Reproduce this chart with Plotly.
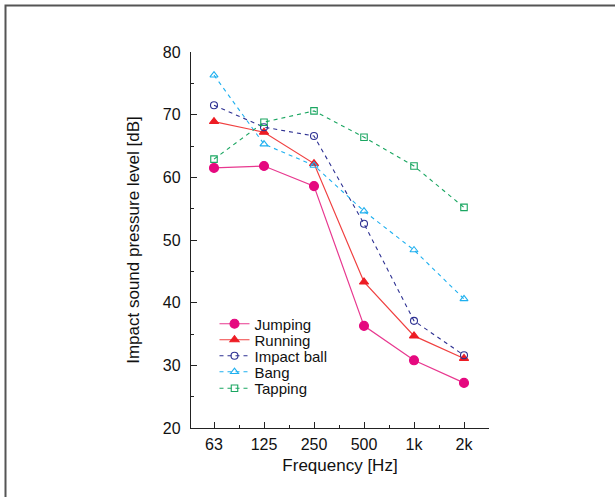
import plotly.graph_objects as go

# Octave-band centre frequencies
bands = ["63", "125", "250", "500", "1k", "2k"]

# Impact sound pressure level [dB] per excitation source
jumping = [61.5, 61.8, 58.6, 36.3, 30.8, 27.2]
running = [68.9, 67.2, 62.2, 43.3, 34.7, 31.1]
impact_ball = [71.5, 68.0, 66.6, 52.6, 37.1, 31.6]
bang = [76.3, 65.3, 61.9, 54.6, 48.4, 40.6]
tapping = [62.9, 68.8, 70.6, 66.4, 61.8, 55.2]

xpos = list(range(len(bands)))

series = [
    ("Jumping", jumping, "#e8388f", "#e5097f", "circle", 9, "solid", 1.2),
    ("Running", running, "#f04040", "#ed1c24", "triangle-up", 8, "solid", 1.2),
    ("Impact ball", impact_ball, "#2e3192", "#2e3192", "circle-open", 7, "4px,4px", 1.1),
    ("Bang", bang, "#1fb0ef", "#1fb0ef", "triangle-up-open", 7, "4px,4px", 1.1),
    ("Tapping", tapping, "#1aa661", "#1aa661", "square-open", 6.5, "4px,4px", 1.1),
]

font = "Arial, Liberation Sans, sans-serif"

# one single-entry legend per series so the rows can sit close together
legend_ids = ["legend", "legend2", "legend3", "legend4", "legend5"]
legend_rows_px = [324, 340, 356, 372, 388.5]
plot_left, plot_w, plot_bottom, plot_h = 191, 298, 428, 376

fig = go.Figure()
for (name, vals, lcol, mcol, sym, size, dash, lw), lid in zip(series, legend_ids):
    fig.add_trace(go.Scatter(
        x=xpos, y=vals, name=name, mode="lines+markers", legend=lid,
        line=dict(color=lcol, width=lw, dash=dash),
        marker=dict(symbol=sym, size=size, color=mcol,
                    line=dict(color=mcol, width=1.1)),
    ))

legend_layout = {}
for lid, ypx in zip(legend_ids, legend_rows_px):
    legend_layout[lid] = dict(
        x=(214.5 - plot_left) / plot_w, y=(plot_bottom - ypx) / plot_h,
        xanchor="left", yanchor="middle",
        bgcolor="rgba(0,0,0,0)", font=dict(size=15, family=font, color="#111"),
        itemwidth=30,
    )

fig.update_layout(
    width=615, height=497,
    margin=dict(l=191, r=126, t=52, b=69),
    paper_bgcolor="white", plot_bgcolor="white",
    font=dict(family=font, size=16, color="#111"),
    showlegend=True,
    xaxis=dict(
        range=[-0.46, 5.5], tickvals=xpos, ticktext=bands,
        showline=True, linecolor="#222", linewidth=1.3,
        ticks="inside", ticklen=6, tickcolor="#222", tickwidth=1,
        showgrid=False, zeroline=False,
        minor=dict(tickvals=[-0.5 + i for i in range(1, 7)], ticks="inside",
                   ticklen=3, tickcolor="#222", showgrid=False),
        title=dict(text="Frequency [Hz]", standoff=6, font=dict(size=17)),
        tickfont=dict(size=16),
        ticklabelstandoff=2,
    ),
    yaxis=dict(
        range=[20, 80], tickvals=[20, 30, 40, 50, 60, 70, 80],
        showline=True, linecolor="#222", linewidth=1.3,
        ticks="inside", ticklen=6, tickcolor="#222", tickwidth=1,
        showgrid=False, zeroline=False,
        minor=dict(tickvals=[25, 35, 45, 55, 65, 75], ticks="inside",
                   ticklen=3, tickcolor="#222", showgrid=False),
        title=dict(text="Impact sound pressure level [dB]", standoff=18,
                   font=dict(size=17)),
        tickfont=dict(size=16),
        ticklabelstandoff=6,
    ),
    **legend_layout,
)

# Outer frame (top and left edges visible within the page)
fig.add_shape(type="rect", xref="paper", yref="paper",
              x0=(5.5 - plot_left) / plot_w, x1=1.6,
              y0=-0.3, y1=(plot_bottom - 5.5) / plot_h,
              line=dict(color="#555", width=2), layer="below")

fig.write_html("out.html")
